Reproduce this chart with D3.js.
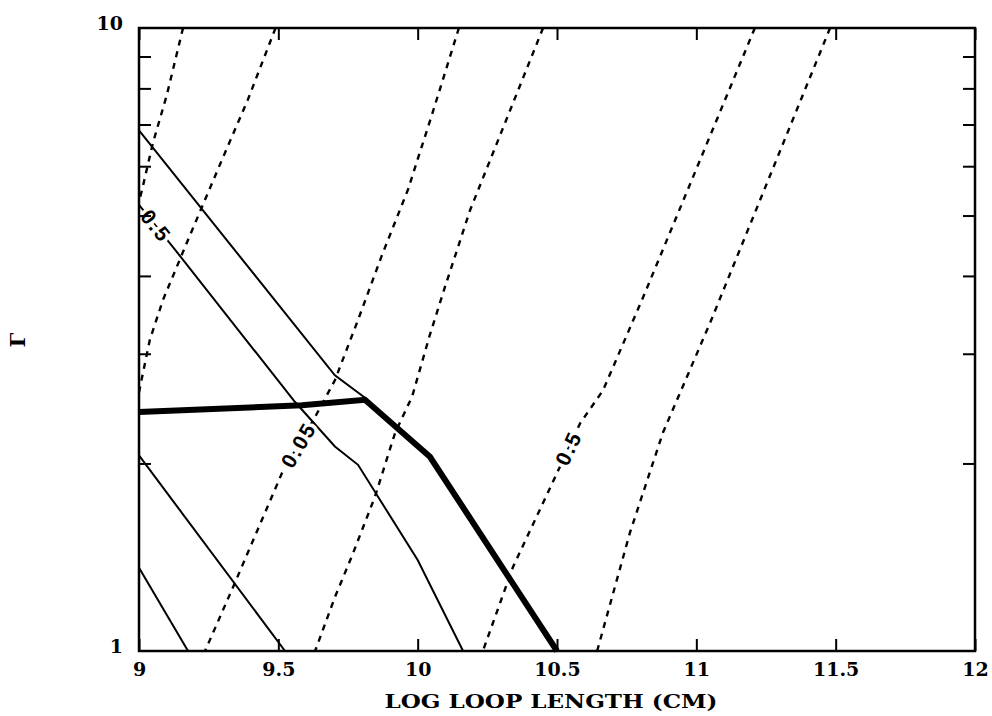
<!DOCTYPE html>
<html>
<head>
<meta charset="utf-8">
<script src="https://cdn.jsdelivr.net/npm/d3@7"></script>
<style>
  body { margin: 0; background: #fff; }
  .tick text, .axis-title { font-family: "DejaVu Serif", serif; font-weight: bold; fill: #000; }
  .clabel { font-family: "Liberation Sans", Arial, sans-serif; font-weight: bold; font-size: 21px; letter-spacing: 2px; }
</style>
</head>
<body>
<svg></svg>
<script>
// Tick values
var xTicks = [9, 9.5, 10, 10.5, 11, 11.5, 12]
var yLabelTicks = [1, 10]
var yMinorTicks = [2, 3, 4, 5, 6, 7, 8, 9]

// Solid contours, [log loop length, gamma]
var solidA = [[9.0, 6.85], [9.703, 2.77], [9.811, 2.55]]
var solidB = [[9.0, 5.2], [9.122, 4.45], [9.355, 3.28], [9.56, 2.51], [9.703, 2.13], [9.786, 1.99], [10.0, 1.40], [10.163, 1.0]]
var solidC = [[9.0, 2.06], [9.524, 1.0]]
var solidD = [[9.0, 1.36], [9.176, 1.0]]

// Thick boundary
var boundary = [[9.0, 2.42], [9.585, 2.48], [9.811, 2.53], [10.044, 2.05], [10.5, 1.0]]

// Dashed contours
var dashA = [[9.158, 10], [9.10, 7.81], [9.05, 6.54], [9.011, 5.50], [9.0, 5.26]]
var dashB = [[9.49, 10], [9.39, 7.66], [9.29, 6.03], [9.183, 4.65], [9.086, 3.66], [9.039, 3.16], [9.011, 2.75], [9.0, 2.60]]
var dashC = [[10.148, 10], [10.051, 7.25], [9.965, 5.50], [9.872, 4.32], [9.786, 3.40], [9.703, 2.72], [9.632, 2.375], [9.513, 1.93], [9.344, 1.286], [9.237, 1.0]]
var dashD = [[10.45, 10], [10.188, 5.10], [10.098, 3.84], [10.044, 3.22], [9.98, 2.56], [9.919, 2.24], [9.847, 1.77], [9.764, 1.42], [9.703, 1.22], [9.632, 1.0]]
var dashE = [[11.21, 10], [10.805, 3.66], [10.665, 2.62], [10.583, 2.32], [10.5, 1.93], [10.342, 1.364], [10.234, 1.0]]
var dashF = [[11.48, 10], [11.049, 3.36], [10.88, 2.24], [10.762, 1.55], [10.644, 1.0]]

// Contour labels: text, the series it sits on, and the segment index
var contourLabels = [
    {text: "0.5", series: solidB, seg: 0},
    {text: "0.05", series: dashC, seg: 6},
    {text: "0.5", series: dashE, seg: 3}
]

var canvasSize = {width: 992, height: 716}
var margin = {top: 28, right: 17, bottom: 65, left: 139},
    width = canvasSize.width - margin.left - margin.right,
    height = canvasSize.height - margin.top - margin.bottom

var svg = d3.select("svg")
    .attr("width", canvasSize.width)
    .attr("height", canvasSize.height)

var view = svg.append("g")
    .attr("transform", `translate(${margin.left},${margin.top})`)

var x = d3.scaleLinear().domain([9, 12]).range([0, width])
var y = d3.scaleLog().domain([1, 10]).range([height, 0])

var line = d3.line().x(d => x(d[0])).y(d => y(d[1]))

// Solid contours
view.selectAll(".solid")
    .data([solidA, solidB, solidC, solidD])
    .enter().append("path")
        .attr("class", "solid")
        .attr("d", line)
        .attr("fill", "none")
        .attr("stroke", "#000")
        .attr("stroke-width", 2)

// Dashed contours
view.selectAll(".dashed")
    .data([dashA, dashB, dashC, dashD, dashE, dashF])
    .enter().append("path")
        .attr("class", "dashed")
        .attr("d", line)
        .attr("fill", "none")
        .attr("stroke", "#000")
        .attr("stroke-width", 2.4)
        .attr("stroke-dasharray", "6,6")

// Thick boundary line
view.append("path")
    .datum(boundary)
    .attr("d", line)
    .attr("fill", "none")
    .attr("stroke", "#000")
    .attr("stroke-width", 6)
    .attr("stroke-linejoin", "miter")

// Contour labels, placed mid segment and turned along it
contourLabels.forEach(l => {
    var p0 = l.series[l.seg], p1 = l.series[l.seg + 1]
    var x0 = x(p0[0]), y0 = y(p0[1]), x1 = x(p1[0]), y1 = y(p1[1])
    var dx = x1 - x0, dy = y1 - y0
    if (dx < 0) { dx = -dx; dy = -dy } // keep text reading left to right
    var angle = Math.atan2(dy, dx) * 180 / Math.PI
    view.append("text")
        .attr("class", "clabel")
        .attr("transform", `translate(${(x0 + x1) / 2},${(y0 + y1) / 2}) rotate(${angle})`)
        .attr("text-anchor", "middle")
        .attr("dy", "0.35em")
        .attr("stroke", "#fff")
        .attr("stroke-width", 7)
        .attr("paint-order", "stroke")
        .attr("fill", "#000")
        .text(l.text)
})

// Axes, ticks point inward
var xAxis = d3.axisBottom(x)
    .tickValues(xTicks)
    .tickSizeInner(-12).tickSizeOuter(0)
    .tickPadding(12)
    .tickFormat(d => String(d))
var xg = view.append("g")
    .attr("transform", `translate(0,${height})`)
    .call(xAxis)
xg.selectAll("text").style("font-size", "19px")

view.append("g")
    .call(d3.axisTop(x).tickValues(xTicks).tickSizeInner(-12).tickSizeOuter(0).tickFormat(""))

var yg = view.append("g")
    .call(d3.axisLeft(y).tickValues(yLabelTicks).tickSize(0).tickPadding(16).tickFormat(d3.format("d")))
yg.selectAll("text").style("font-size", "19px").attr("dy", "0.1em")

view.append("g")
    .call(d3.axisLeft(y).tickValues(yMinorTicks).tickSizeInner(-12).tickSizeOuter(0).tickFormat(""))
view.append("g")
    .attr("transform", `translate(${width},0)`)
    .call(d3.axisRight(y).tickValues(yMinorTicks).tickSizeInner(-12).tickSizeOuter(0).tickFormat(""))

view.selectAll(".domain").remove()
view.selectAll(".tick line").attr("stroke", "#000").attr("stroke-width", 2)

// Frame
view.append("rect")
    .attr("width", width)
    .attr("height", height)
    .attr("fill", "none")
    .attr("stroke", "#000")
    .attr("stroke-width", 2.5)

// Axis titles
svg.append("text")
    .attr("class", "axis-title")
    .attr("x", 551)
    .attr("y", 708)
    .attr("text-anchor", "middle")
    .attr("textLength", 333)
    .attr("lengthAdjust", "spacingAndGlyphs")
    .style("font-size", "18px")
    .text("LOG LOOP LENGTH (CM)")

svg.append("text")
    .attr("class", "axis-title")
    .attr("transform", "translate(25,340) rotate(-90)")
    .attr("text-anchor", "middle")
    .style("font-size", "21px")
    .text("Γ")
</script>
</body>
</html>
